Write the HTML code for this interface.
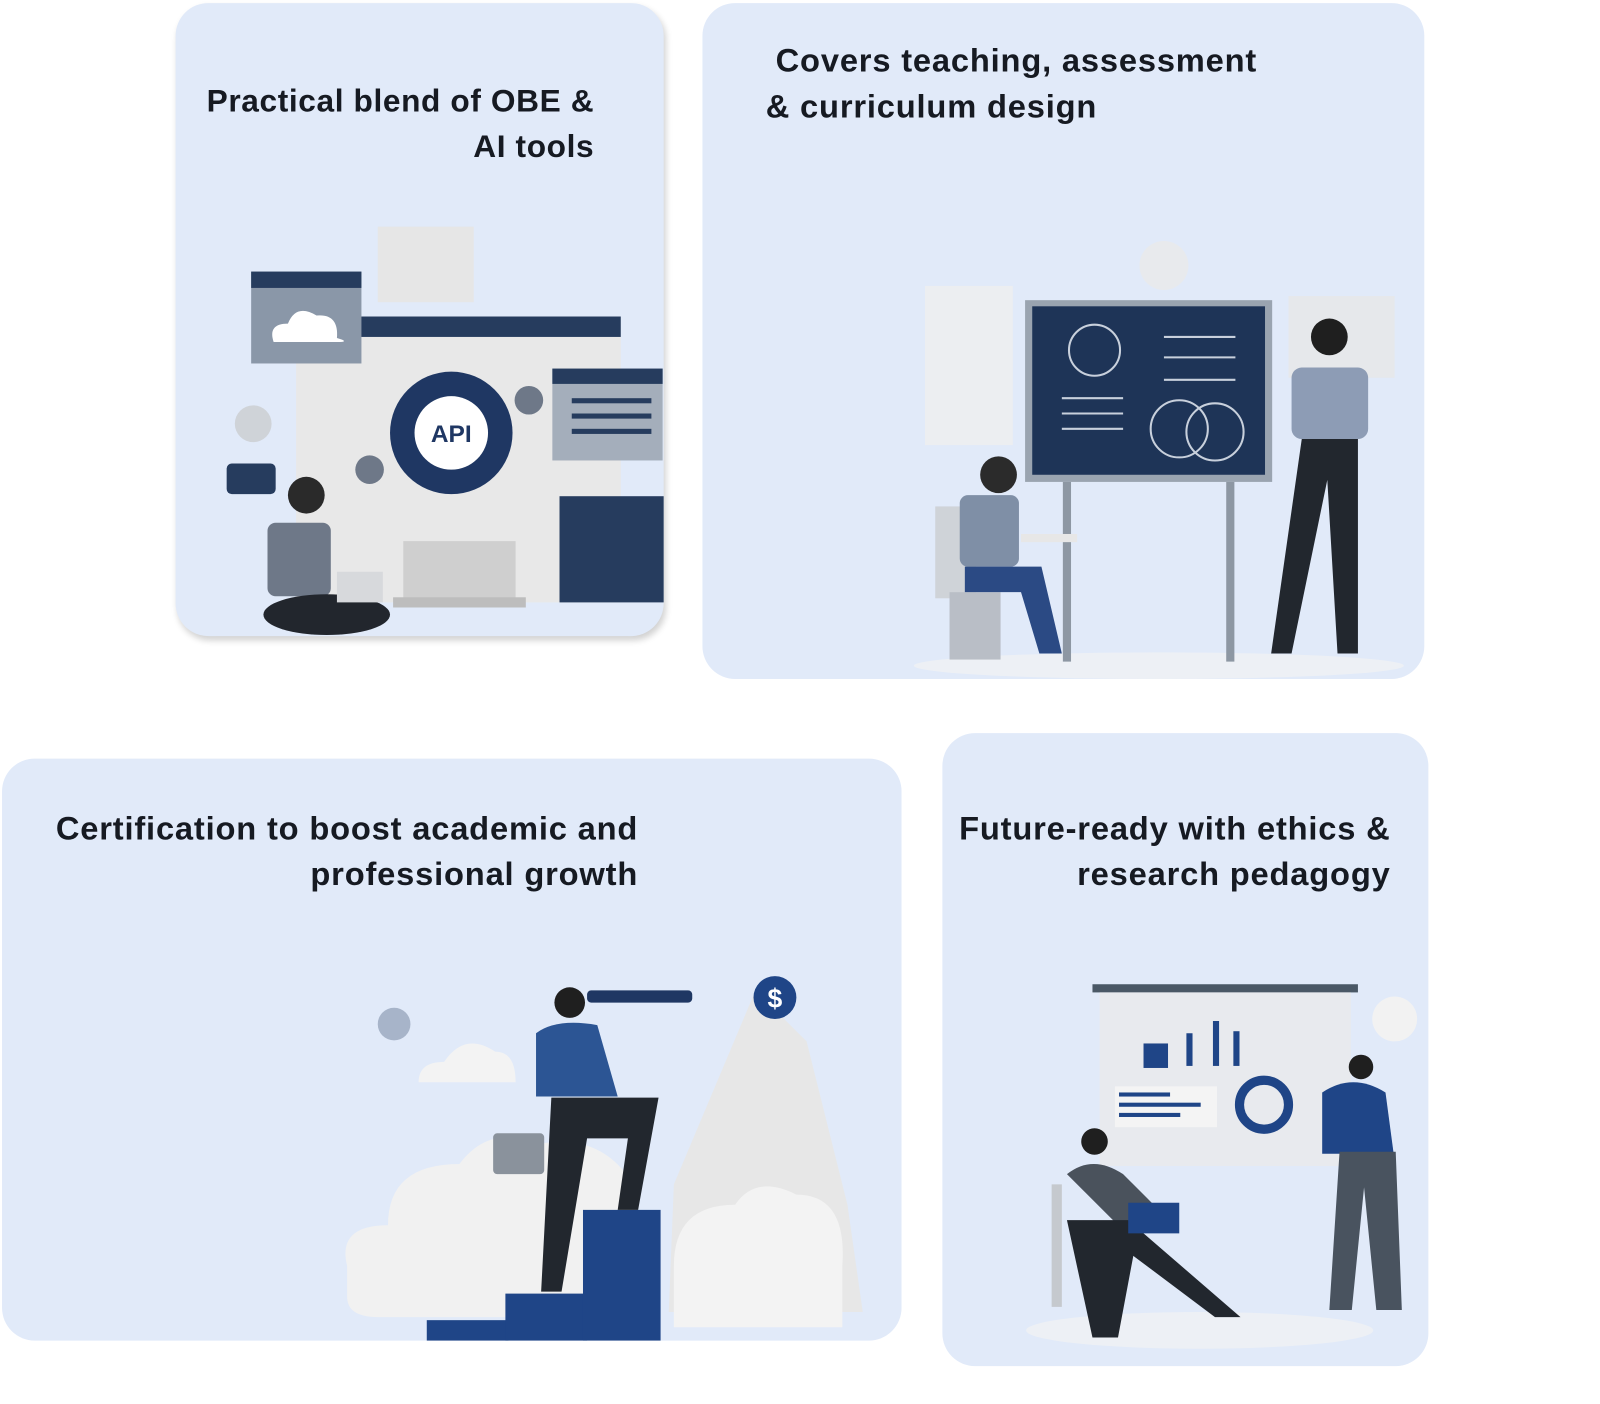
<!DOCTYPE html>
<html><head><meta charset="utf-8"><style>
body{margin:0;width:1600px;height:1404px;background:#fff;position:relative;overflow:hidden;font-family:"Liberation Sans",sans-serif}
#w{position:absolute;left:0;top:0;width:1560px;height:1369px;transform:scale(1.021);transform-origin:0 0}
.c{position:absolute;background:#e1eaf9;border-radius:32px}
.t{position:absolute;font-weight:bold;font-size:32px;line-height:45px;color:#161a22;letter-spacing:0.8px;white-space:nowrap}
svg{position:absolute;left:0;top:0}
</style></head><body><div id="w">
<div class="c" style="left:172px;top:3px;width:478px;height:620px;box-shadow:2px 4px 6px rgba(0,0,0,0.18)"></div>
<div class="c" style="left:688px;top:3px;width:707px;height:662px"></div>
<div class="c" style="left:2px;top:743px;width:881px;height:570px"></div>
<div class="c" style="left:923px;top:718px;width:476px;height:620px"></div>

<div class="t" style="right:978px;top:76px;text-align:right;font-size:31px;letter-spacing:0.6px">Practical blend of OBE &amp;<br>AI tools</div>
<div class="t" style="left:750px;top:37px">&nbsp;Covers teaching, assessment<br>&amp; curriculum design</div>
<div class="t" style="right:935px;top:789px;text-align:right">Certification to boost academic and<br>professional growth</div>
<div class="t" style="right:198px;top:789px;text-align:right">Future-ready with ethics &amp;<br>research pedagogy</div>

<svg width="1560" height="1369">
<rect x="370" y="222" width="94" height="74" fill="#e6e6e6"/>
<rect x="290" y="310" width="318" height="280" fill="#e8e8e8"/>
<rect x="290" y="310" width="318" height="20" fill="#263c5e"/>
<rect x="395" y="530" width="110" height="60" fill="#cfcfcf"/>
<rect x="385" y="585" width="130" height="10" fill="#bdbdbd"/>
<rect x="246" y="266" width="108" height="90" fill="#8a97a8"/>
<rect x="246" y="266" width="108" height="16" fill="#263c5e"/>
<path d="M268 335 q-6-18 14-18 q8-20 28-8 q22-2 20 22 q14 4 0 4z" fill="#fff"/>
<circle cx="442" cy="424" r="60" fill="#1f3763"/>
<circle cx="442" cy="424" r="36" fill="#fff"/>
<text x="442" y="433" font-size="24" font-weight="bold" fill="#1f3763" text-anchor="middle" font-family="Liberation Sans">API</text>
<rect x="541" y="361" width="108" height="90" fill="#a4aebb"/>
<rect x="541" y="361" width="108" height="15" fill="#263c5e"/>
<rect x="560" y="390" width="78" height="5" fill="#263c5e"/><rect x="560" y="405" width="78" height="5" fill="#263c5e"/><rect x="560" y="420" width="78" height="5" fill="#263c5e"/>
<rect x="548" y="486" width="102" height="104" fill="#263c5e"/>
<rect x="222" y="454" width="48" height="30" rx="5" fill="#263c5e"/>
<circle cx="362" cy="460" r="14" fill="#6e7888"/><circle cx="518" cy="392" r="14" fill="#6e7888"/><circle cx="248" cy="415" r="18" fill="#cfd3d8"/>
<circle cx="300" cy="485" r="18" fill="#2a2a2a"/>
<rect x="262" y="512" width="62" height="72" rx="8" fill="#6e7888"/>
<ellipse cx="320" cy="602" rx="62" ry="20" fill="#22262d"/>
<rect x="330" y="560" width="45" height="30" fill="#d7d9dc"/>
<ellipse cx="1135" cy="652" rx="240" ry="13" fill="#edf0f5"/>
<circle cx="1140" cy="260" r="24" fill="#e8eaed"/>
<rect x="906" y="280" width="86" height="156" fill="#eceef1"/>
<rect x="1262" y="290" width="104" height="80" fill="#e6e8eb"/>
<rect x="1004" y="294" width="242" height="178" fill="#9aa4b0"/>
<rect x="1011" y="300" width="228" height="165" fill="#1e3457"/>
<circle cx="1072" cy="343" r="25" fill="none" stroke="#c8d0dc" stroke-width="2"/>
<circle cx="1155" cy="420" r="28" fill="none" stroke="#c8d0dc" stroke-width="2"/>
<circle cx="1190" cy="423" r="28" fill="none" stroke="#c8d0dc" stroke-width="2"/>
<g stroke="#c8d0dc" stroke-width="2"><line x1="1140" y1="330" x2="1210" y2="330"/><line x1="1140" y1="350" x2="1210" y2="350"/><line x1="1140" y1="372" x2="1210" y2="372"/><line x1="1040" y1="390" x2="1100" y2="390"/><line x1="1040" y1="405" x2="1100" y2="405"/><line x1="1040" y1="420" x2="1100" y2="420"/></g>
<rect x="1041" y="472" width="8" height="176" fill="#8d97a3"/><rect x="1201" y="472" width="8" height="176" fill="#8d97a3"/>
<rect x="916" y="496" width="40" height="90" fill="#cfd3d8"/><rect x="930" y="580" width="50" height="66" fill="#b9bec6"/>
<rect x="940" y="485" width="58" height="70" rx="8" fill="#7f8fa6"/>
<circle cx="978" cy="465" r="18" fill="#2b2b2b"/>
<path d="M945 555 h75 l20 85 h-22 l-18-60 h-55z" fill="#2b4a84"/>
<rect x="1000" y="523" width="55" height="8" fill="#e7e7e7"/>
<circle cx="1302" cy="330" r="18" fill="#1f1f1f"/>
<rect x="1265" y="360" width="75" height="70" rx="10" fill="#8d9cb5"/>
<path d="M1275 430 h55 l0 210 h-20 l-10-170 l-35 170 h-20z" fill="#22272e"/>
<circle cx="386" cy="1003" r="16" fill="#a7b4c9"/>
<path d="M410 1060 q0-20 25-20 q20-30 50-10 q20 0 20 30z" fill="#f3f3f3"/>
<path d="M340 1240 q-10-40 40-40 q0-60 70-60 q30-40 80-20 q60-10 90 40 l0 100 q0 30-30 30 h-220 q-30 0-30-20z" fill="#f1f1f1"/>
<path d="M660 1160 l80-190 l50 50 l40 160 l15 105 h-190z" fill="#e7e7e7"/>
<path d="M660 1240 q0-60 60-60 q20-30 60-10 q50 0 45 70 v60 h-165z" fill="#f3f3f3"/>
<circle cx="759" cy="977" r="21" fill="#1f4587"/>
<text x="759" y="987" font-size="26" font-weight="bold" fill="#fff" text-anchor="middle" font-family="Liberation Sans">$</text>
<rect x="418" y="1293" width="80" height="20" fill="#1f4587"/>
<rect x="495" y="1267" width="80" height="46" fill="#1f4587"/>
<rect x="571" y="1185" width="76" height="128" fill="#1f4587"/>
<rect x="575" y="970" width="103" height="12" rx="4" fill="#1f3763"/>
<circle cx="558" cy="982" r="15" fill="#1f1f1f"/>
<path d="M525 1012 q20-15 60-8 l20 70 h-80z" fill="#2c5594"/>
<path d="M540 1075 h105 l-20 110 h-20 l10-70 h-40 l-25 150 h-20z" fill="#22272e"/>
<rect x="483" y="1110" width="50" height="40" rx="4" fill="#8a929c"/>
<ellipse cx="1175" cy="1303" rx="170" ry="18" fill="#edf0f5"/>
<rect x="1070" y="964" width="260" height="8" fill="#4a5866"/>
<rect x="1077" y="972" width="246" height="170" fill="#e8eaee"/>
<rect x="1120" y="1022" width="24" height="24" fill="#1f4587"/>
<rect x="1162" y="1012" width="6" height="32" fill="#1f4587"/><rect x="1188" y="1000" width="6" height="44" fill="#1f4587"/><rect x="1208" y="1010" width="6" height="34" fill="#1f4587"/>
<rect x="1092" y="1064" width="100" height="40" fill="#f4f4f4"/>
<rect x="1096" y="1070" width="50" height="4" fill="#1f4587"/><rect x="1096" y="1080" width="80" height="4" fill="#1f4587"/><rect x="1096" y="1090" width="60" height="4" fill="#1f4587"/>
<circle cx="1238" cy="1082" r="24" fill="none" stroke="#1f4587" stroke-width="9"/>
<circle cx="1366" cy="998" r="22" fill="#f2f2f2"/>
<rect x="1030" y="1160" width="10" height="120" fill="#c5c9ce"/>
<path d="M1045 1150 q25-20 55 0 l40 40 l-40 15 z" fill="#4a525c"/>
<circle cx="1072" cy="1118" r="13" fill="#1f1f1f"/>
<path d="M1045 1195 h60 l110 95 h-25 l-80-60 l-15 80 h-25z" fill="#22272e"/>
<rect x="1105" y="1178" width="50" height="30" fill="#1f4587"/>
<circle cx="1333" cy="1045" r="12" fill="#1f1f1f"/>
<path d="M1295 1070 q30-20 62 0 l8 60 h-70z" fill="#1f4587"/>
<path d="M1312 1128 h55 l6 155 h-25 l-12-120 l-12 120 h-22z" fill="#49535f"/>
</svg>
</div></body></html>
